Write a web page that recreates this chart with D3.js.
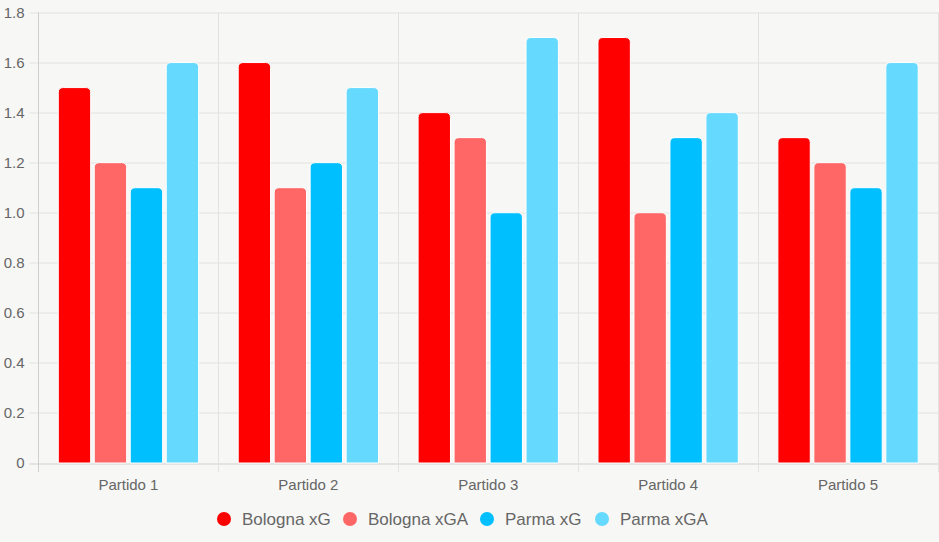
<!DOCTYPE html>
<html>
<head>
<meta charset="utf-8">
<script src="https://cdn.jsdelivr.net/npm/d3@7"></script>
<style>
  body { margin: 0; background: #f7f7f5; font-family: "Liberation Sans", Arial, sans-serif; }
  #chart svg { display: block; }
</style>
</head>
<body>
<div id="chart"></div>
<script>
const partidos = ['Partido 1', 'Partido 2', 'Partido 3', 'Partido 4', 'Partido 5']
const seriesNames = ['Bologna xG', 'Bologna xGA', 'Parma xG', 'Parma xGA']
const bolognaXG = [1.5, 1.6, 1.4, 1.7, 1.3]
const bolognaXGA = [1.2, 1.1, 1.3, 1.0, 1.2]
const parmaXG = [1.1, 1.2, 1.0, 1.3, 1.1]
const parmaXGA = [1.6, 1.5, 1.7, 1.4, 1.6]
const yTicks = [0, 0.2, 0.4, 0.6, 0.8, 1.0, 1.2, 1.4, 1.6, 1.8]
const colors = ['#ff0000', '#ff6666', '#00bfff', '#66d9ff']

const allSeries = [bolognaXG, bolognaXGA, parmaXG, parmaXGA]

const W = 939
const H = 542
const margin = { top: 12.5, left: 38.5, right: 1, bottom: 79 }
const width = W - margin.left - margin.right
const height = H - margin.top - margin.bottom

const svg = d3
  .select('#chart')
  .append('svg')
  .attr('width', W)
  .attr('height', H)

svg.append('rect').attr('width', W).attr('height', H).attr('fill', '#f7f7f5')

const g = svg.append('g')
  .attr('transform', 'translate(' + margin.left + ',' + margin.top + ')')

// category 80%, bar 90% of its slot
const x0 = d3.scaleBand().domain(partidos).range([0, width])
const x1 = d3.scaleBand().domain(seriesNames).range([x0.bandwidth() * 0.1, x0.bandwidth() * 0.9])
const barW = x1.bandwidth() * 0.9
const y = d3.scaleLinear().domain([0, 1.8]).range([height, 0])

// horizontal grid
g.selectAll('.hgrid')
  .data(yTicks)
  .enter()
  .append('line')
  .attr('class', 'hgrid')
  .attr('x1', -9)
  .attr('x2', width)
  .attr('y1', d => Math.round(y(d)) + 0.5)
  .attr('y2', d => Math.round(y(d)) + 0.5)
  .attr('stroke', d => d === 0 ? '#cfcfcf' : '#e2e2e2')
  .attr('stroke-width', 1)

// vertical grid at category boundaries
const bounds = partidos.map(p => x0(p)).concat([width])
g.selectAll('.vgrid')
  .data(bounds)
  .enter()
  .append('line')
  .attr('class', 'vgrid')
  .attr('x1', d => Math.round(d))
  .attr('x2', d => Math.round(d))
  .attr('y1', 0)
  .attr('y2', height + 9)
  .attr('stroke', (d, i) => i === 0 ? '#cfcfcf' : '#e2e2e2')
  .attr('stroke-width', 1)

// y labels
g.selectAll('.ylab')
  .data(yTicks)
  .enter()
  .append('text')
  .attr('class', 'ylab')
  .attr('x', -14)
  .attr('y', d => y(d))
  .attr('dy', '0.35em')
  .attr('text-anchor', 'end')
  .attr('font-size', 15)
  .attr('fill', '#666')
  .text(d => d === 0 ? '0' : d.toFixed(1))

// x labels
g.selectAll('.xlab')
  .data(partidos)
  .enter()
  .append('text')
  .attr('class', 'xlab')
  .attr('x', d => x0(d) + x0.bandwidth() / 2)
  .attr('y', height + 26.5)
  .attr('text-anchor', 'middle')
  .attr('font-size', 15)
  .attr('fill', '#666')
  .text(d => d)

// bars with rounded top corners
function barPath(x, yTop, w, yBottom, r) {
  r = Math.min(r, w / 2, yBottom - yTop)
  return 'M' + x + ',' + yBottom +
    'V' + (yTop + r) +
    'Q' + x + ',' + yTop + ' ' + (x + r) + ',' + yTop +
    'H' + (x + w - r) +
    'Q' + (x + w) + ',' + yTop + ' ' + (x + w) + ',' + (yTop + r) +
    'V' + yBottom + 'Z'
}

const groups = g.selectAll('.partido')
  .data(partidos)
  .enter()
  .append('g')
  .attr('class', 'partido')
  .attr('transform', d => 'translate(' + x0(d) + ',0)')

groups.selectAll('path')
  .data((d, i) => seriesNames.map((s, j) => ({ s, j, v: allSeries[j][i] })))
  .enter()
  .append('path')
  .attr('d', d => barPath(x1(d.s) + (x1.bandwidth() - barW) / 2, y(d.v), barW, y(0), 5))
  .attr('fill', d => colors[d.j])
  .attr('stroke', '#ffffff')
  .attr('stroke-width', 1)

// legend
const legendX = [224, 350, 487, 602]
const legend = svg.selectAll('.legend')
  .data(seriesNames)
  .enter()
  .append('g')
  .attr('class', 'legend')
  .attr('transform', (d, i) => 'translate(' + legendX[i] + ',519)')

legend.append('circle')
  .attr('r', 7)
  .attr('fill', (d, i) => colors[i])

legend.append('text')
  .attr('x', 18)
  .attr('dy', '0.35em')
  .attr('font-size', 17)
  .attr('fill', '#666')
  .text(d => d)
</script>
</body>
</html>
